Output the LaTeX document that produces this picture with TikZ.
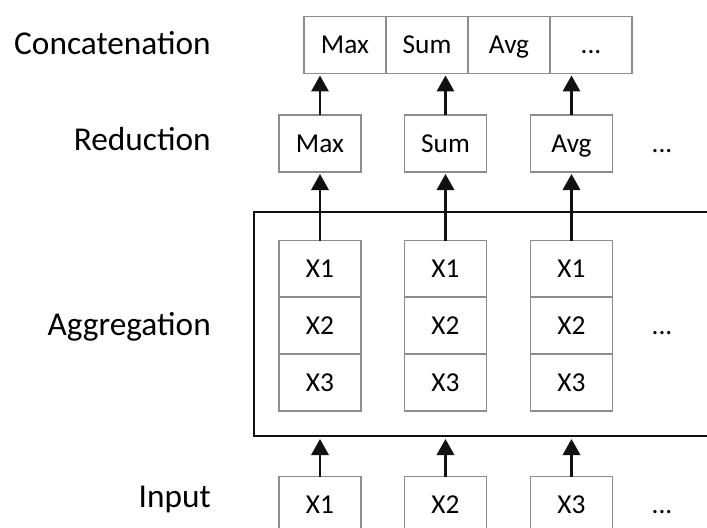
\documentclass[tikz,border=0pt]{standalone}
\usepackage{fontspec}
\setmainfont{Carlito}
\usetikzlibrary{arrows.meta,positioning}
\definecolor{boxgray}{HTML}{8C8C8C}
\definecolor{ink}{HTML}{111111}
\tikzset{
  cell/.style={rectangle,draw=boxgray,line width=0.8pt,fill=white,
               minimum width=61.5pt,minimum height=42.75pt,
               inner sep=0pt,outer sep=0pt,
               font=\fontsize{20.5}{24}\selectfont,
               text height=17.2pt,text depth=4.1pt},
  dots/.style={font=\fontsize{20.5}{24}\selectfont,inner sep=0pt,
               text height=17.2pt,text depth=4.1pt},
  layer/.style={font=\fontsize{25}{30}\selectfont,anchor=base east,
                inner sep=0pt},
  arr/.style={-{Triangle[length=12pt,width=13pt]},line width=1.7pt,
              color=ink,shorten >=1.5pt},
  frame/.style={rectangle,draw=ink,line width=1.5pt,
                minimum width=379.5pt,minimum height=168pt},
}

\begin{document}
\begin{tikzpicture}[x=0.75pt,y=-0.75pt]
  \clip (0,0) rectangle (707,528);

  % layer names
  \node[layer] (lcat) at (211,55) {Concatenation};
  \node[layer] (lred) at (211,151) {Reduction};
  \node[layer] (lagg) at (211,335) {Aggregation};
  \node[layer] (lin) at (211,507) {Input};

  % aggregation frame
  \node[frame] (aggbox) at (507,324) {};

  % concatenation
  \foreach \t [count=\i] in {Max,Sum,Avg}
    \node[cell] (cat\i) at (263+82*\i,45) {\t};
  \node[cell] (cat4) at (591,45) {...};

  % columns
  \foreach \c/\r [count=\i] in {320/Max,445.5/Sum,571.5/Avg} {
    \node[cell] (red\i) at (\c,143.5) {\r};
    \node[cell] (agg\i-1) at (\c,269) {X1};
    \node[cell] (agg\i-2) at (\c,325.5) {X2};
    \node[cell] (agg\i-3) at (\c,382.5) {X3};
    \node[cell] (in\i) at (\c,505) {X\i};
    \draw[arr] (agg\i-1.north) -- (red\i.south);
    \draw[arr] (red\i.north) -- (red\i.north |- cat1.south);
    \draw[arr] (in\i.north) -- (in\i.north |- aggbox.south);
  }

  \node[dots] (dred) at (662,143.5) {...};
  \node[dots] (dagg) at (662,325.5) {...};
  \node[dots] (din) at (662,505) {...};
\end{tikzpicture}
\end{document}
